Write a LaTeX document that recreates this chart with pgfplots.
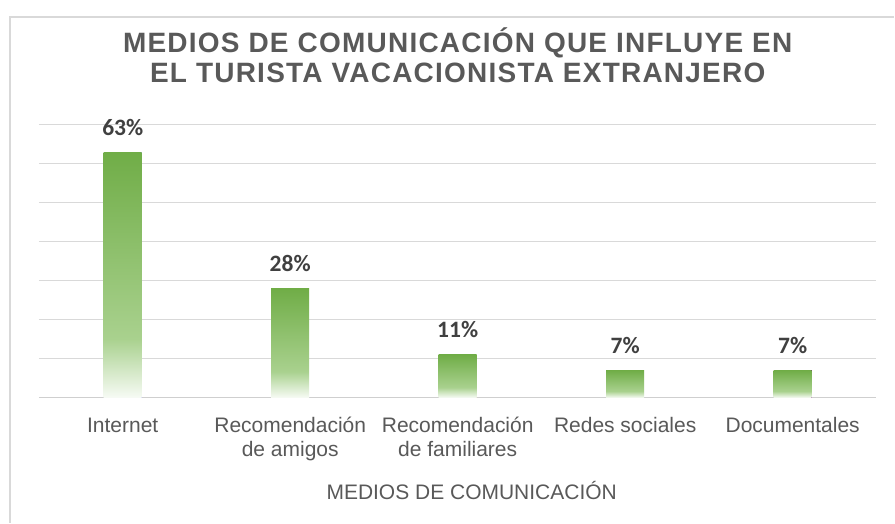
\documentclass[border=0pt]{standalone}
\usepackage{fontspec}
\setmainfont{Liberation Sans}
\newfontfamily\labelfont{Carlito}
\newfontfamily\titlefont[LetterSpace=4.4]{Liberation Sans}
\usepackage{pgfplots}
\pgfplotsset{compat=1.18}

\definecolor{gT}{HTML}{70AD47}
\definecolor{gL}{HTML}{A9D18E}
\definecolor{gW}{HTML}{F7FBF5}
\definecolor{txtgray}{HTML}{595959}
\definecolor{lblgray}{HTML}{404040}
\definecolor{gridgray}{HTML}{D9D9D9}
\definecolor{axisgray}{HTML}{CFCFCF}

\pgfdeclareverticalshading{barshade}{100bp}{color(0bp)=(gW); color(25bp)=(gW);
  color(37bp)=(gL); color(75bp)=(gT); color(100bp)=(gT)}

\begin{document}
\begin{tikzpicture}
\path[fill=white] (0,0) rectangle (895bp,523bp);
\draw[gridgray, line width=1.2bp] (10bp,0) -- (10bp,506bp) -- (895bp,506bp);
\begin{axis}[
    at={(39bp,125bp)}, anchor=south west,
    scale only axis,
    width=838bp, height=273bp,
    xmin=-0.5, xmax=4.5,
    ymin=0, ymax=70,
    ybar, bar width=38bp, bar shift=0pt,
    axis x line*=bottom, axis y line*=left,
    x axis line style={draw=axisgray, line width=1.2bp},
    y axis line style={draw=none},
    ytick={10,20,...,70},
    yticklabels={},
    ymajorgrids,
    major grid style={draw=gridgray, line width=1bp},
    xtick={0,1,2,3,4},
    xticklabels={{\rule{0pt}{16.8bp}Internet},
                 {\rule{0pt}{16.8bp}Recomendación\\de amigos},
                 {\rule{0pt}{16.8bp}Recomendación\\de familiares},
                 {\rule{0pt}{16.8bp}Redes sociales},
                 {\rule{0pt}{16.8bp}Documentales}},
    major tick length=0pt,
    xticklabel style={anchor=north, inner sep=0pt, yshift=-17.5bp, align=center,
        font=\fontsize{21bp}{24bp}\selectfont, text=txtgray},
    xlabel={MEDIOS DE COMUNICACIÓN},
    xlabel style={at={(axis description cs:0.5,0)}, anchor=base, inner sep=0pt,
        yshift=-102bp, xshift=14bp, font=\fontsize{21bp}{24bp}\selectfont, text=txtgray},
    title={\rule{0pt}{26bp}MEDIOS DE COMUNICACIÓN QUE INFLUYE EN\\EL TURISTA VACACIONISTA EXTRANJERO},
    title style={at={(axis description cs:0.5,1)}, anchor=north, inner sep=0pt,
        yshift=92.5bp, align=center, text=txtgray,
        font=\titlefont\bfseries\fontsize{28bp}{30bp}\selectfont},
    point meta=y,
    nodes near coords={\pgfmathprintnumber[assume math mode=true]{\pgfplotspointmeta}\%},
    nodes near coords style={anchor=base, yshift=17bp, inner sep=0pt, text=lblgray,
        font=\labelfont\bfseries\fontsize{23.5bp}{23.5bp}\selectfont},
    every axis plot/.append style={draw=none, shade, shading=barshade},
]
% one plot per bar so that each bar gets its own gradient
\addplot coordinates {(0,63)};
\addplot coordinates {(1,28)};
\addplot coordinates {(2,11)};
\addplot coordinates {(3,7)};
\addplot coordinates {(4,7)};
\end{axis}
\end{tikzpicture}
\end{document}
